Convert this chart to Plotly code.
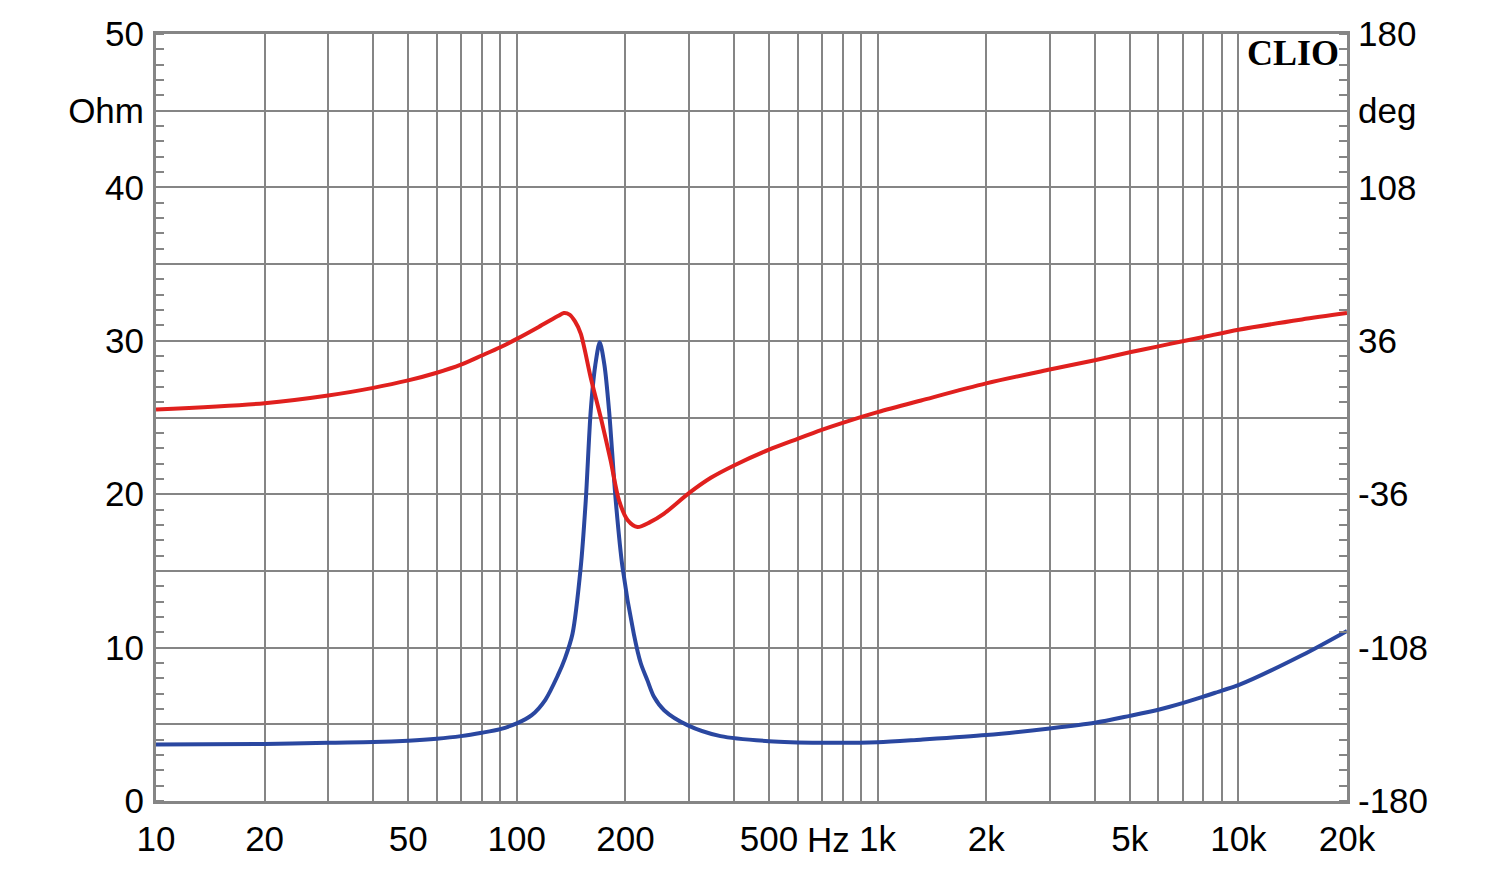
import numpy as np
import plotly.graph_objects as go

# impedance magnitude (Ohm)
freq_z = [10, 20, 30, 40, 50, 60, 70, 80, 90, 100, 110, 120, 130, 136, 142.7, 150.4,
          155.3, 160.3, 165, 169.8, 175, 180.2, 188, 196.3, 211, 220.6, 230, 240, 256, 297,
          367, 500, 695, 1000, 1315, 2000, 3000, 4000, 5000, 6000, 7000, 8000, 9000,
          10000, 15000, 20000]
imp = [3.69, 3.71, 3.8, 3.84, 3.93, 4.06, 4.23, 4.45, 4.69, 5.06, 5.6, 6.6, 8.2, 9.3, 10.9, 15.25,
       19.6, 25.45, 28.4, 29.9, 28.4, 25.45, 19.6, 15.25, 10.9, 8.98, 7.88, 6.79, 5.92, 4.95,
       4.23, 3.9, 3.8, 3.83, 4.0, 4.3, 4.73, 5.1, 5.55, 5.95, 6.38, 6.8, 7.2,
       7.55, 9.5, 11.09]

# phase (deg)
freq_p = [10, 20, 30, 40, 50, 60, 70, 80, 90, 100, 115, 125, 130, 135, 140, 145, 150.4,
          160.3, 170.9, 182, 192, 203, 216, 234, 256, 300, 345, 400, 500, 600, 700, 800,
          1000, 1320, 2000, 3000, 4000, 5000, 6000, 7000, 8000, 10000, 15000, 20000]
phase = [3.7, 6.7, 10.3, 13.9, 17.4, 21.0, 24.8, 29.1, 33.0, 36.9, 42.5, 46.0, 47.6, 49.0, 48.3, 45.1, 39.4,
         18.7, 0.0, -20.2, -38.9, -48.2, -51.4, -49.1, -45.1, -35.5, -28.3, -22.5, -15.1, -10.0, -5.8, -2.5,
         2.5, 8.0, 16.0, 22.5, 26.9, 30.6, 33.4, 35.8, 37.8, 41.2, 46.0, 49.0]

grid_f = [10, 20, 30, 40, 50, 60, 70, 80, 90, 100, 200, 300, 400, 500, 600, 700, 800, 900,
          1000, 2000, 3000, 4000, 5000, 6000, 7000, 8000, 9000, 10000, 20000]
x_labels = {10: '10', 20: '20', 50: '50', 100: '100', 200: '200', 500: '500', 1000: '1k',
            2000: '2k', 5000: '5k', 10000: '10k', 20000: '20k'}
ohm_ticks = [0, 5, 10, 15, 20, 25, 30, 35, 40, 45, 50]
ohm_text = ['0', '', '10', '', '20', '', '30', '', '40', 'Ohm', '50']
deg_ticks = [-180, -108, -36, 36, 108, 144, 180]
deg_text = ['-180', '-108', '-36', '36', '108', 'deg', '180']

grey = '#858585'
lab_font = dict(family='Liberation Sans, Arial, sans-serif', size=35, color='black')

fig = go.Figure()
fig.add_trace(go.Scatter(x=freq_p, y=phase, yaxis='y2', mode='lines',
                         line=dict(color='#e0201e', width=4, shape='spline', smoothing=0.8)))
fig.add_trace(go.Scatter(x=freq_z, y=imp, mode='lines',
                         line=dict(color='#2a47a0', width=4, shape='spline', smoothing=0.8)))

# page body has an 8px margin, so the plot is shifted up/left to compensate
fig.update_layout(
    width=1500, height=870,
    margin=dict(l=148, r=161, t=26, b=77, autoexpand=False),
    paper_bgcolor='white', plot_bgcolor='white',
    showlegend=False,
    font=lab_font,
    xaxis=dict(type='log', range=[1, np.log10(20000)], automargin=False,
               tickvals=grid_f, ticktext=[x_labels.get(f, '') for f in grid_f],
               showgrid=True, gridcolor=grey, gridwidth=1.5,
               showline=True, linecolor=grey, linewidth=3, mirror=True,
               ticks='', ticklabelstandoff=5, tickfont=lab_font, zeroline=False),
    yaxis=dict(range=[0, 50], tickvals=ohm_ticks, ticktext=ohm_text, automargin=False,
               showgrid=True, gridcolor=grey, gridwidth=1.5,
               showline=True, linecolor=grey, linewidth=3, mirror=True,
               ticks='', ticklabelstandoff=2, tickfont=lab_font, zeroline=False,
               minor=dict(dtick=1, ticks='inside', ticklen=8, tickcolor=grey, tickwidth=1.5, showgrid=False)),
    yaxis2=dict(range=[-180, 180], overlaying='y', side='right', automargin=False,
                tickvals=deg_ticks, ticktext=deg_text, showgrid=False, zeroline=False,
                showline=True, linecolor=grey, linewidth=3,
                ticks='', ticklabelstandoff=1, tickfont=lab_font,
                minor=dict(tick0=-180, dtick=7.2, ticks='inside', ticklen=8, tickcolor=grey, tickwidth=1.5)),
)

fig.add_annotation(x=np.log10(730), y=0, xref='x', yref='paper', yanchor='top',
                   yshift=-17, text='Hz', showarrow=False, font=lab_font)
fig.add_annotation(x=1, y=1, xref='paper', yref='paper', xanchor='right', yanchor='top',
                   xshift=-6, yshift=3, text='<b>CLIO</b>', showarrow=False,
                   font=dict(family='Liberation Serif, Times New Roman, serif', size=36, color='black'))

fig.write_html("out.html")
